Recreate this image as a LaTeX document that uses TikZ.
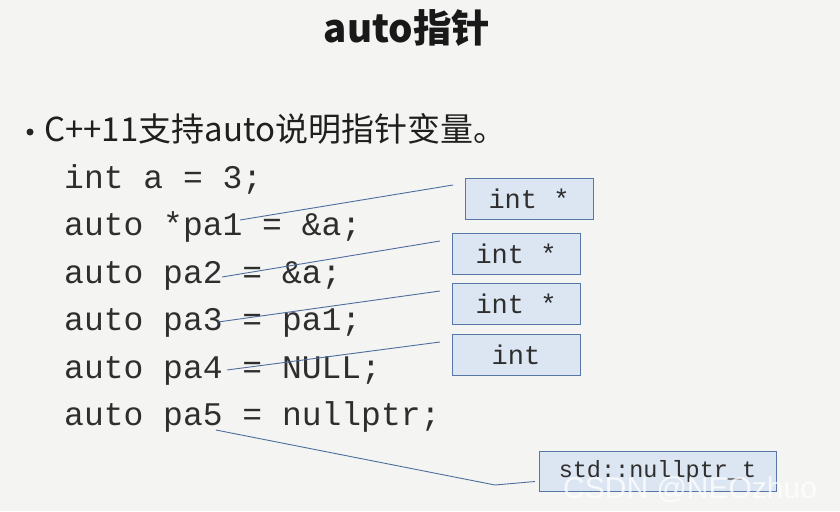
\documentclass[tikz,border=0pt]{standalone}
\usepackage{fontspec}
\setmonofont{Liberation Mono}
\newfontfamily\cjk{Noto Sans CJK SC}
\newfontfamily\wmfont{Liberation Sans}
\definecolor{bgc}{HTML}{F4F4F2}
\definecolor{boxfill}{HTML}{DCE6F2}
\definecolor{boxdraw}{HTML}{5677A8}
\definecolor{linec}{HTML}{4E6E9E}
\definecolor{codec}{HTML}{2E2E2E}
\begin{document}
\begin{tikzpicture}[x=1pt,y=-1pt,
  codeline/.style={anchor=base west,inner sep=0pt,font=\ttfamily\fontsize{33}{33}\selectfont,text=codec},
  typebox/.style={draw=boxdraw,fill=boxfill,line width=0.9pt,inner sep=0pt,minimum width=128pt,minimum height=41pt,font=\ttfamily\fontsize{27}{27}\selectfont,text=codec},
  conn/.style={draw=linec,line width=0.9pt}]
\fill[bgc] (0,0) rectangle (840,511);
\useasboundingbox (0,0) rectangle (840,511);
% title
\node[font=\cjk\bfseries\fontsize{38.5}{38.5}\selectfont,text=black!90,inner sep=0pt] (title) at (407,28) {auto指针};
% bullet
\node[circle,fill=black!85,inner sep=0pt,minimum size=7pt] (dot) at (30,132) {};
\node[font=\cjk\fontsize{33}{33}\selectfont,text=black!88,anchor=base west,inner sep=0pt] (bullet) at (44,141) {C++11支持auto说明指针变量。};
% code
\node[codeline] (c1) at (64,188) {int a = 3;};
\node[codeline] (c2) at (64,235.5) {auto *pa1 = \&a;};
\node[codeline] (c3) at (64,283) {auto pa2 = \&a;};
\node[codeline] (c4) at (64,330.5) {auto pa3 = pa1;};
\node[codeline] (c5) at (64,378) {auto pa4 = NULL;};
\node[codeline] (c6) at (64,425.5) {auto pa5 = nullptr;};
% type boxes
\node[typebox] (b1) at (529,198.5) {int *};
\node[typebox] (b2) at (516,254) {int *};
\node[typebox] (b3) at (516,304) {int *};
\node[typebox] (b4) at (516,354.5) {int};
\node[typebox,minimum width=237pt,minimum height=40pt,font=\ttfamily\fontsize{23.5}{23.5}\selectfont] (b5) at (657.5,471) {std::nullptr\_t};
% connectors
\coordinate (s1) at (240,220);
\coordinate (e1) at (453,185);
\coordinate (s2) at (222,277);
\coordinate (e2) at (440,241);
\coordinate (s3) at (218,322);
\coordinate (e3) at (440,291);
\coordinate (s4) at (227,370);
\coordinate (e4) at (440,342);
\coordinate (s5) at (216,430);
\coordinate (k5) at (495,485);
\coordinate (e5) at (535,481.5);
\draw[conn] (s1) -- (e1);
\draw[conn] (s2) -- (e2);
\draw[conn] (s3) -- (e3);
\draw[conn] (s4) -- (e4);
\draw[conn] (s5) -- (k5) -- (e5);
% watermark
\node[font=\wmfont\fontsize{30}{30}\selectfont,text=white,opacity=0.75,anchor=base west,inner sep=0pt] (wm) at (563,498) {CSDN @NEOzhuo};
\end{tikzpicture}
\end{document}
